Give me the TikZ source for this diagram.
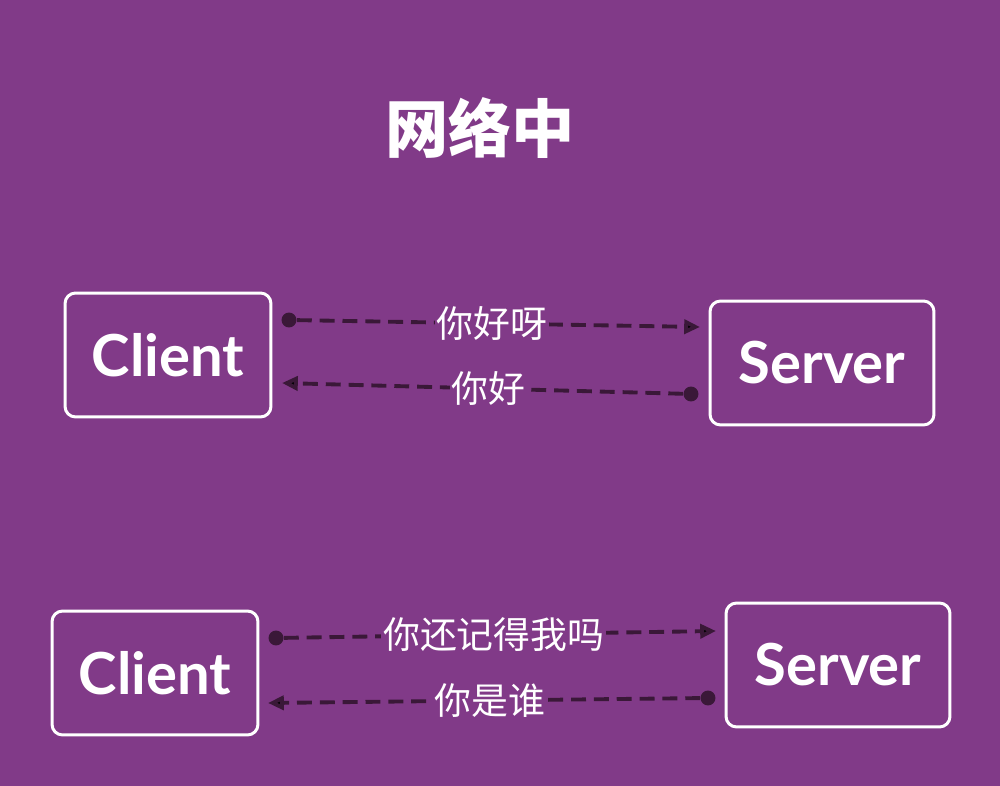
\documentclass[tikz,border=0pt]{standalone}
\usepackage{fontspec}
\setsansfont{Lato}
\newfontfamily\cjk{Noto Sans CJK SC}
\usetikzlibrary{arrows.meta}

\definecolor{bgpurple}{HTML}{813A88}
\definecolor{linedark}{HTML}{3A1838}

\begin{document}
\begin{tikzpicture}[x=0.02cm,y=-0.02cm,
                    host/.style={draw=white,line width=1.7pt,rounded corners=6pt,
                                 minimum height=2.48cm,text=white,
                                 font=\sffamily\bfseries\fontsize{33}{38}\selectfont},
                    dot/.style={circle,fill=linedark,inner sep=0pt,minimum size=8.5pt},
                    msg/.style={-{Triangle[length=9pt,width=8pt]},
                                draw=linedark,line width=2.2pt,dash pattern=on 8.5pt off 4.5pt},
                    word/.style={fill=bgpurple,inner sep=1pt,text=white,
                                 font=\cjk\fontsize{21}{24}\selectfont}]

  \fill[bgpurple] (0,0) rectangle (1000,786);
  \useasboundingbox (0,0) rectangle (1000,786);

  \node[text=white,font=\cjk\bfseries\fontsize{36}{40}\selectfont] (title) at (480,128) {网络中};

  % first exchange
  \node[host, minimum width=4.12cm] (client1) at (168,355) {Client};
  \node[host, minimum width=4.48cm] (server1) at (822,363) {Server};
  \node[dot] (c1a) at (289,320) {};
  \coordinate (s1a) at (700,327);
  \node[dot] (s1b) at (691,394) {};
  \coordinate (c1b) at (282,383);

  % second exchange
  \node[host, minimum width=4.12cm] (client2) at (155,673) {Client};
  \node[host, minimum width=4.48cm] (server2) at (838,665) {Server};
  \node[dot] (c2a) at (276,638) {};
  \coordinate (s2a) at (716,631);
  \node[dot] (s2b) at (708,698) {};
  \coordinate (c2b) at (268,703);

  \path[msg]
    (c1a) edge node[word, pos=0.484] {你好呀} (s1a)
    (s1b) edge node[word, pos=0.486] {你好} (c1b)
    (c2a) edge node[word, pos=0.486] {你还记得我吗} (s2a)
    (s2b) edge node[word, pos=0.486] {你是谁} (c2b);
\end{tikzpicture}
\end{document}
